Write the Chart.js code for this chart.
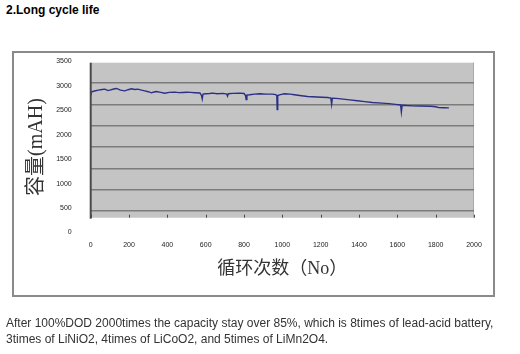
<!DOCTYPE html>
<html>
<head>
<meta charset="utf-8">
<script src="https://cdn.jsdelivr.net/npm/chart.js@4/dist/chart.umd.min.js"></script>
<style>
  html, body { margin: 0; padding: 0; background: #fff; }
  body { width: 520px; height: 354px; position: relative; overflow: hidden; }
  #title { position: absolute; left: 6px; top: 3px; font: bold 12px 'Liberation Sans', Arial, sans-serif; color: #000; }
  #frame { position: absolute; left: 12px; top: 51px; width: 483px; height: 246px; box-sizing: border-box; border: 2px solid #8a8a8a; }
  #c { position: absolute; left: 0; top: 0; }
  #note { position: absolute; left: 6px; top: 315px; width: 510px; font: 12px/16px 'Liberation Sans', Arial, sans-serif; color: #333; }
</style>
</head>
<body>
<div id="title">2.Long cycle life</div>
<div id="frame"></div>
<canvas id="c" width="520" height="354"></canvas>
<div id="note">After 100%DOD 2000times the capacity stay over 85%, which is 8times of lead-acid battery,<br>3times of LiNiO2, 4times of LiCoO2, and 5times of LiMn2O4.</div>
<script>
// ---- data ----
const cycles = [0, 5, 20, 40, 60, 74, 90, 100, 120, 135, 155, 178, 195, 213, 230, 246, 265, 282, 300, 317, 330, 343, 365, 386, 410, 438, 460, 480, 500, 520, 545, 570, 578, 582, 586, 600, 620, 636, 660, 690, 710, 714, 718, 740, 777, 800, 808, 811, 815, 829, 855, 881, 915, 948, 965, 971, 973, 976, 990, 1011, 1040, 1063, 1100, 1132, 1180, 1236, 1253, 1257, 1261, 1280, 1306, 1350, 1392, 1430, 1470, 1520, 1557, 1590, 1617, 1621, 1625, 1650, 1678, 1720, 1774, 1800, 1817, 1840, 1869];
const capacity = [2760, 2840, 2860, 2880, 2895, 2903, 2870, 2880, 2905, 2918, 2880, 2865, 2890, 2910, 2895, 2903, 2880, 2865, 2845, 2820, 2838, 2850, 2830, 2812, 2830, 2835, 2825, 2828, 2832, 2830, 2822, 2815, 2760, 2680, 2790, 2800, 2805, 2812, 2800, 2808, 2790, 2745, 2800, 2808, 2812, 2805, 2760, 2670, 2770, 2775, 2790, 2800, 2790, 2790, 2780, 2760, 2440, 2760, 2780, 2800, 2790, 2776, 2755, 2737, 2725, 2715, 2700, 2560, 2700, 2695, 2683, 2660, 2640, 2620, 2600, 2588, 2575, 2560, 2545, 2385, 2540, 2532, 2526, 2522, 2518, 2505, 2485, 2482, 2480];
const xTicks = { min: 0, max: 2000, step: 200 };
const yTicks = { min: 0, max: 3500, step: 500 };
const xTitle = '循环次数（No）';
const yTitle = '容量(mAH)';

const points = cycles.map((c, i) => ({ x: c, y: capacity[i] }));
const plain = v => String(v);

const plotPlugin = {
  id: 'plotArea',
  beforeDraw(chart) {
    const { ctx } = chart;
    const x = chart.scales.x, y2 = chart.scales.y2;
    const l = x.getPixelForValue(xTicks.min), r = x.getPixelForValue(xTicks.max);
    const t = y2.getPixelForValue(yTicks.max), b = y2.getPixelForValue(yTicks.min);
    ctx.save();
    ctx.fillStyle = '#c4c4c4';
    ctx.fillRect(l, t, r - l, b - t);
    ctx.strokeStyle = '#a8a8a8';
    ctx.lineWidth = 1;
    ctx.beginPath();
    ctx.moveTo(r - 0.5, t);
    ctx.lineTo(r - 0.5, b);
    ctx.stroke();
    ctx.restore();
  },
  afterDatasetsDraw(chart) {
    const { ctx } = chart;
    const x = chart.scales.x, y2 = chart.scales.y2;
    const l = x.getPixelForValue(xTicks.min);
    const t = y2.getPixelForValue(yTicks.max), b = y2.getPixelForValue(yTicks.min);
    ctx.save();
    ctx.strokeStyle = '#4a4a4a';
    ctx.lineWidth = 2;
    ctx.beginPath();
    ctx.moveTo(l, t);
    ctx.lineTo(l, b + 1);
    ctx.stroke();
    ctx.lineWidth = 1;
    x.ticks.forEach(tk => {
      const px = Math.round(x.getPixelForValue(tk.value)) + 0.5;
      ctx.beginPath();
      ctx.moveTo(px, b);
      ctx.lineTo(px, b - 3);
      ctx.stroke();
    });
    ctx.restore();
  }
};

new Chart(document.getElementById('c'), {
  type: 'line',
  data: {
    datasets: [{
      data: points,
      yAxisID: 'y2',
      borderColor: '#2b2f86',
      borderWidth: 1.4,
      pointRadius: 0,
      tension: 0,
      fill: false
    }]
  },
  options: {
    responsive: false,
    animation: false,
    events: [],
    layout: { padding: { left: 25, top: 61.5, right: 46, bottom: 74.2 } },
    plugins: { legend: { display: false }, tooltip: { enabled: false } },
    scales: {
      x: {
        type: 'linear',
        min: xTicks.min, max: xTicks.max,
        grid: { display: false, drawTicks: false },
        border: { display: false },
        ticks: { stepSize: xTicks.step, padding: 8, maxRotation: 0, autoSkip: false, callback: plain,
                 color: '#222', font: { family: "'Liberation Sans Narrow', 'Liberation Sans', Arial", size: 7 } },
        title: { display: true, text: xTitle, color: '#333', padding: 0,
                 font: { family: "'Liberation Serif', 'Noto Sans CJK SC'", size: 18, lineHeight: 1.2 } },
        afterFit(s) { s.height = 47.3; }
      },
      y: {
        position: 'left',
        min: yTicks.min, max: yTicks.max,
        grid: { display: false, drawTicks: false },
        border: { display: false },
        ticks: { stepSize: yTicks.step, padding: 19, callback: plain,
                 color: '#222', font: { family: "'Liberation Sans Narrow', 'Liberation Sans', Arial", size: 7 } },
        title: { display: true, text: yTitle, color: '#333', padding: 0,
                 font: { family: "'Liberation Serif', 'Noto Sans CJK SC'", size: 20, lineHeight: 1.2 } },
        afterFit(s) { s.width = 65.7; }
      },
      y2: {
        position: 'right',
        min: -334, max: 3527,
        grid: {
          drawTicks: false,
          color: c => (c.tick && c.tick.value >= 0 && c.tick.value <= 3500) ? (c.tick.value === 0 ? '#4a4a4a' : '#7c7c7c') : 'rgba(0,0,0,0)',
          lineWidth: c => (c.tick && c.tick.value === 0) ? 2 : 1.5
        },
        border: { display: false },
        ticks: { display: false, stepSize: yTicks.step, includeBounds: false },
        afterFit(s) { s.width = 0; }
      }
    }
  },
  plugins: [plotPlugin]
});
</script>
</body>
</html>
